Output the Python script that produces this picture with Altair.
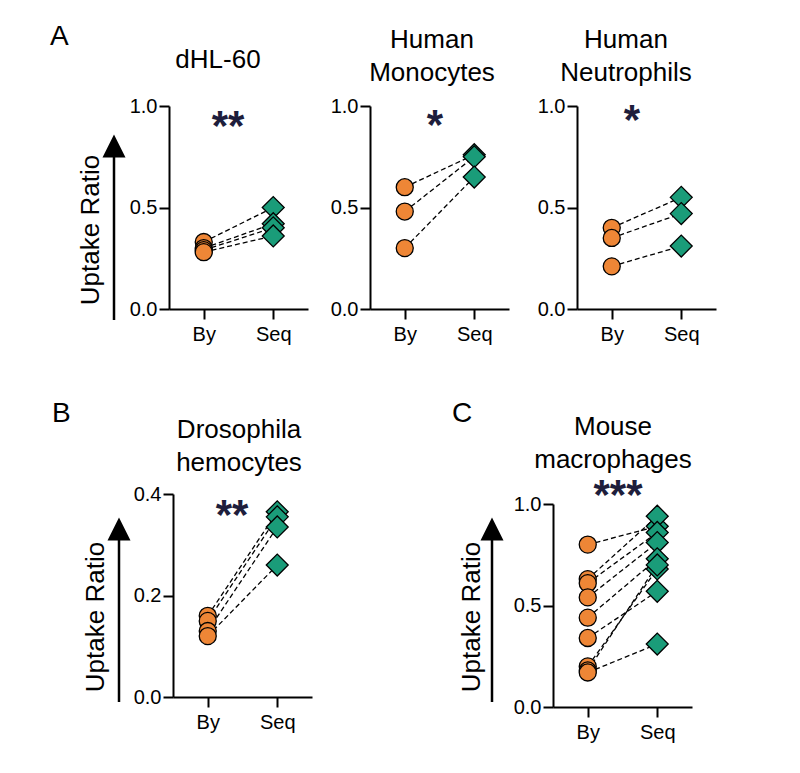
import altair as alt
import pandas as pd

groups = ["By", "Seq"]

dhl60_by = [0.33, 0.30, 0.29, 0.28]
dhl60_seq = [0.50, 0.42, 0.40, 0.36]
mono_by = [0.60, 0.48, 0.30]
mono_seq = [0.76, 0.75, 0.65]
neut_by = [0.40, 0.35, 0.21]
neut_seq = [0.55, 0.47, 0.31]
dros_by = [0.16, 0.15, 0.13, 0.12]
dros_seq = [0.365, 0.355, 0.335, 0.26]
mouse_by = [0.80, 0.63, 0.61, 0.54, 0.44, 0.34, 0.20, 0.18, 0.17]
mouse_seq = [0.89, 0.94, 0.86, 0.81, 0.73, 0.57, 0.68, 0.70, 0.31]

ticks_1 = [0.0, 0.5, 1.0]
ticks_04 = [0.0, 0.2, 0.4]

ORANGE = "#EE8636"
GREEN = "#1A9C79"
STAR = "#1E1E3C"
FONT = "Liberation Sans, Arial, sans-serif"
W, H = 139, 203

one = pd.DataFrame({"k": [0]})


def pairs_df(by, seq):
    rows = []
    for i, (b, s) in enumerate(zip(by, seq)):
        rows.append({"pair": i, "group": "By", "value": b})
        rows.append({"pair": i, "group": "Seq", "value": s})
    return pd.DataFrame(rows)


def txt(text, x, y, size, weight="normal", color="black", align="center",
        baseline="alphabetic", angle=0, line_height=33):
    return alt.Chart(one).mark_text(
        text=text, fontSize=size, font=FONT, fontWeight=weight, color=color,
        align=align, baseline=baseline, angle=angle, lineBreak="\n",
        lineHeight=line_height,
    ).encode(x=alt.value(x), y=alt.value(y))


def arrow(x, tip_y, bottom_y):
    head = alt.Chart(one).mark_point(
        shape="M0,-1L1,1L-1,1Z", filled=True, color="black", size=529, opacity=1
    ).encode(x=alt.value(x), y=alt.value(tip_y + 11))
    line = alt.Chart(one).mark_rule(color="black", strokeWidth=2.5).encode(
        x=alt.value(x), y=alt.value(tip_y + 15), y2=alt.value(bottom_y)
    )
    return [line, head]


def panel(by, seq, ymax, yticks, title, tx, ty, star, sx, sy,
          letter=None, lx=0, ly=0, ylab=None):
    df = pairs_df(by, seq)
    x = alt.X("group:N", scale=alt.Scale(domain=groups, padding=0.5),
              axis=alt.Axis(title=None, labelAngle=0, labelPadding=5))
    y = alt.Y("value:Q", scale=alt.Scale(domain=[0, ymax], nice=False),
              axis=alt.Axis(title=None, values=yticks, format=".1f", labelPadding=2))
    base = alt.Chart(df)
    lines = base.mark_line(color="black", strokeDash=[5, 3], strokeWidth=1.3).encode(
        x=x, y=y, detail="pair:N")
    pts = base.mark_point(filled=True, stroke="black", strokeWidth=1.3, opacity=1,
                          fillOpacity=1).encode(
        x=x, y=y,
        shape=alt.Shape("group:N", scale=alt.Scale(domain=groups, range=["circle", "diamond"]), legend=None),
        fill=alt.Fill("group:N", scale=alt.Scale(domain=groups, range=[ORANGE, GREEN]), legend=None),
        size=alt.Size("group:N", scale=alt.Scale(domain=groups, range=[290, 480]), legend=None),
    )
    layers = [lines, pts,
              txt(star, sx, sy, 42, weight="bold", color=STAR),
              txt(title, tx, ty, 26)]
    if letter:
        layers.append(txt(letter, lx, ly, 28, align="left"))
    if ylab:
        ax, tipy, boty, labx, laby = ylab
        layers += arrow(ax, tipy, boty)
        layers.append(txt("Uptake Ratio", labx, laby, 26, angle=270, baseline="middle"))
    return alt.layer(*layers).properties(width=W, height=H)


a1 = panel(dhl60_by, dhl60_seq, 1.0, ticks_1, "dHL-60", 49, -38, "**", 59, 34,
           letter="A", lx=-119, ly=-61, ylab=(-55, 29, 214, -78, 124))
a2 = panel(mono_by, mono_seq, 1.0, ticks_1, "Human\nMonocytes", 62, -58, "*", 65, 33)
a3 = panel(neut_by, neut_seq, 1.0, ticks_1, "Human\nNeutrophils", 49, -58, "*", 55, 28)
b = panel(dros_by, dros_seq, 0.4, ticks_04, "Drosophila\nhemocytes", 66, -56, "**", 59, 35,
          letter="B", lx=-121, ly=-72, ylab=(-54, 24, 208, -77, 123))
c = panel(mouse_by, mouse_seq, 1.0, ticks_1, "Mouse\nmacrophages", 60, -69, "***", 65, 5,
          letter="C", lx=-101, ly=-82, ylab=(-61, 14, 198, -81, 113))


def spacer(w, h):
    return alt.Chart(one).mark_point(opacity=0).encode(
        x=alt.value(0), y=alt.value(0)).properties(width=w, height=h)


# nested concats count as zero size in a flush layout, so spacings are full offsets
row_a = alt.hconcat(a1, alt.hconcat(a2, a3, spacing=68, bounds="flush"),
                    spacing=62, bounds="flush")
left_b = alt.hconcat(spacer(1, 1), b, spacing=3, bounds="flush")
right_c = alt.vconcat(spacer(W, 1), c, spacing=9, bounds="flush")
row_b = alt.hconcat(left_b, right_c, spacing=384, bounds="flush")

chart = alt.vconcat(row_a, row_b, spacing=388, bounds="flush").resolve_scale(
    x="independent", y="independent"
).configure_view(stroke=None).configure_axis(
    domainColor="black", domainWidth=2, tickColor="black", tickWidth=2, tickSize=10,
    labelFont=FONT, labelFontSize=20, labelColor="black", grid=False,
).properties(padding={"left": 42, "top": 15, "right": 5, "bottom": 5}, background="white")

chart.save("out.html", embed_options={"renderer": "svg", "actions": False})
